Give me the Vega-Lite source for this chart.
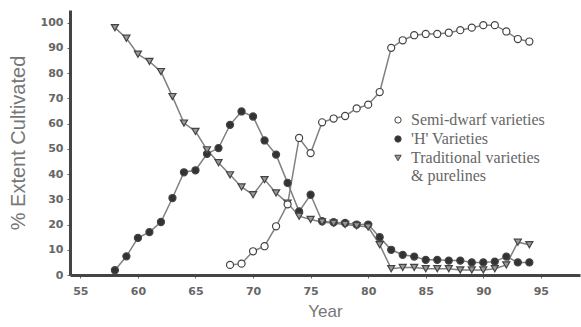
{
  "$schema": "https://vega.github.io/schema/vega-lite/v6.json",
  "width": 510,
  "height": 265,
  "autosize": {"type": "none"},
  "padding": {"left": 70, "top": 10, "right": 1, "bottom": 52},
  "background": "white",
  "config": {"view": {"stroke": null}},
  "data": {"values": [
    {"year": 58, "series": "'H' Varieties", "value": 1.9},
    {"year": 59, "series": "'H' Varieties", "value": 7.4},
    {"year": 60, "series": "'H' Varieties", "value": 14.7},
    {"year": 61, "series": "'H' Varieties", "value": 17},
    {"year": 62, "series": "'H' Varieties", "value": 21},
    {"year": 63, "series": "'H' Varieties", "value": 30.5},
    {"year": 64, "series": "'H' Varieties", "value": 40.7},
    {"year": 65, "series": "'H' Varieties", "value": 41.5},
    {"year": 66, "series": "'H' Varieties", "value": 48},
    {"year": 67, "series": "'H' Varieties", "value": 50.3},
    {"year": 68, "series": "'H' Varieties", "value": 59.5},
    {"year": 69, "series": "'H' Varieties", "value": 64.8},
    {"year": 70, "series": "'H' Varieties", "value": 62.8},
    {"year": 71, "series": "'H' Varieties", "value": 53.3},
    {"year": 72, "series": "'H' Varieties", "value": 47.7},
    {"year": 73, "series": "'H' Varieties", "value": 36.5},
    {"year": 74, "series": "'H' Varieties", "value": 25.2},
    {"year": 75, "series": "'H' Varieties", "value": 31.8},
    {"year": 76, "series": "'H' Varieties", "value": 21.3},
    {"year": 77, "series": "'H' Varieties", "value": 20.9},
    {"year": 78, "series": "'H' Varieties", "value": 20.6},
    {"year": 79, "series": "'H' Varieties", "value": 20},
    {"year": 80, "series": "'H' Varieties", "value": 20},
    {"year": 81, "series": "'H' Varieties", "value": 15},
    {"year": 82, "series": "'H' Varieties", "value": 10},
    {"year": 83, "series": "'H' Varieties", "value": 8},
    {"year": 84, "series": "'H' Varieties", "value": 7.3},
    {"year": 85, "series": "'H' Varieties", "value": 6},
    {"year": 86, "series": "'H' Varieties", "value": 6},
    {"year": 87, "series": "'H' Varieties", "value": 5.7},
    {"year": 88, "series": "'H' Varieties", "value": 5.7},
    {"year": 89, "series": "'H' Varieties", "value": 5},
    {"year": 90, "series": "'H' Varieties", "value": 5},
    {"year": 91, "series": "'H' Varieties", "value": 5.3},
    {"year": 92, "series": "'H' Varieties", "value": 7.3},
    {"year": 93, "series": "'H' Varieties", "value": 5},
    {"year": 94, "series": "'H' Varieties", "value": 5},
    {"year": 58, "series": "Traditional varieties & purelines", "value": 98},
    {"year": 59, "series": "Traditional varieties & purelines", "value": 93.8},
    {"year": 60, "series": "Traditional varieties & purelines", "value": 87.5},
    {"year": 61, "series": "Traditional varieties & purelines", "value": 84.6},
    {"year": 62, "series": "Traditional varieties & purelines", "value": 80.6},
    {"year": 63, "series": "Traditional varieties & purelines", "value": 70.7},
    {"year": 64, "series": "Traditional varieties & purelines", "value": 60.2},
    {"year": 65, "series": "Traditional varieties & purelines", "value": 56.9},
    {"year": 66, "series": "Traditional varieties & purelines", "value": 49.6},
    {"year": 67, "series": "Traditional varieties & purelines", "value": 44.5},
    {"year": 68, "series": "Traditional varieties & purelines", "value": 39.7},
    {"year": 69, "series": "Traditional varieties & purelines", "value": 34.9},
    {"year": 70, "series": "Traditional varieties & purelines", "value": 31.8},
    {"year": 71, "series": "Traditional varieties & purelines", "value": 37.8},
    {"year": 72, "series": "Traditional varieties & purelines", "value": 32.5},
    {"year": 73, "series": "Traditional varieties & purelines", "value": 28.5},
    {"year": 74, "series": "Traditional varieties & purelines", "value": 23.3},
    {"year": 75, "series": "Traditional varieties & purelines", "value": 22},
    {"year": 76, "series": "Traditional varieties & purelines", "value": 21},
    {"year": 77, "series": "Traditional varieties & purelines", "value": 20.5},
    {"year": 78, "series": "Traditional varieties & purelines", "value": 20},
    {"year": 79, "series": "Traditional varieties & purelines", "value": 19.5},
    {"year": 80, "series": "Traditional varieties & purelines", "value": 19},
    {"year": 81, "series": "Traditional varieties & purelines", "value": 12},
    {"year": 82, "series": "Traditional varieties & purelines", "value": 2.5},
    {"year": 83, "series": "Traditional varieties & purelines", "value": 3},
    {"year": 84, "series": "Traditional varieties & purelines", "value": 3},
    {"year": 85, "series": "Traditional varieties & purelines", "value": 2.5},
    {"year": 86, "series": "Traditional varieties & purelines", "value": 2.5},
    {"year": 87, "series": "Traditional varieties & purelines", "value": 2.5},
    {"year": 88, "series": "Traditional varieties & purelines", "value": 2},
    {"year": 89, "series": "Traditional varieties & purelines", "value": 2},
    {"year": 90, "series": "Traditional varieties & purelines", "value": 2},
    {"year": 91, "series": "Traditional varieties & purelines", "value": 2.5},
    {"year": 92, "series": "Traditional varieties & purelines", "value": 4},
    {"year": 93, "series": "Traditional varieties & purelines", "value": 13},
    {"year": 94, "series": "Traditional varieties & purelines", "value": 12},
    {"year": 68, "series": "Semi-dwarf varieties", "value": 4},
    {"year": 69, "series": "Semi-dwarf varieties", "value": 4.5},
    {"year": 70, "series": "Semi-dwarf varieties", "value": 9.4},
    {"year": 71, "series": "Semi-dwarf varieties", "value": 11.4},
    {"year": 72, "series": "Semi-dwarf varieties", "value": 19.3},
    {"year": 73, "series": "Semi-dwarf varieties", "value": 28},
    {"year": 74, "series": "Semi-dwarf varieties", "value": 54.3},
    {"year": 75, "series": "Semi-dwarf varieties", "value": 48.3},
    {"year": 76, "series": "Semi-dwarf varieties", "value": 60.5},
    {"year": 77, "series": "Semi-dwarf varieties", "value": 62},
    {"year": 78, "series": "Semi-dwarf varieties", "value": 63},
    {"year": 79, "series": "Semi-dwarf varieties", "value": 66},
    {"year": 80, "series": "Semi-dwarf varieties", "value": 67.5},
    {"year": 81, "series": "Semi-dwarf varieties", "value": 72.5},
    {"year": 82, "series": "Semi-dwarf varieties", "value": 90},
    {"year": 83, "series": "Semi-dwarf varieties", "value": 93},
    {"year": 84, "series": "Semi-dwarf varieties", "value": 95},
    {"year": 85, "series": "Semi-dwarf varieties", "value": 95.5},
    {"year": 86, "series": "Semi-dwarf varieties", "value": 95.5},
    {"year": 87, "series": "Semi-dwarf varieties", "value": 96},
    {"year": 88, "series": "Semi-dwarf varieties", "value": 97},
    {"year": 89, "series": "Semi-dwarf varieties", "value": 98},
    {"year": 90, "series": "Semi-dwarf varieties", "value": 99},
    {"year": 91, "series": "Semi-dwarf varieties", "value": 99},
    {"year": 92, "series": "Semi-dwarf varieties", "value": 96.5},
    {"year": 93, "series": "Semi-dwarf varieties", "value": 93.5},
    {"year": 94, "series": "Semi-dwarf varieties", "value": 92.5}
  ]},
  "encoding": {
    "x": {"field": "year", "type": "quantitative",
      "scale": {"domain": [54.1, 98.4], "nice": false, "zero": false},
      "axis": {"values": [55, 60, 65, 70, 75, 80, 85, 90, 95], "title": "Year",
        "domainColor": "#444", "domainWidth": 3, "tickColor": "#666", "tickSize": 3,
        "labelColor": "#666", "labelFont": "DejaVu Sans", "labelFontSize": 11, "labelFontWeight": "bold",
        "labelPadding": 7, "grid": false,
        "titleColor": "#777", "titleFont": "Liberation Sans", "titleFontSize": 17, "titleFontWeight": "normal", "titlePadding": 7}},
    "y": {"field": "value", "type": "quantitative",
      "scale": {"domain": [0, 105], "nice": false},
      "axis": {"values": [0, 10, 20, 30, 40, 50, 60, 70, 80, 90, 100], "title": "% Extent Cultivated",
        "domainColor": "#444", "domainWidth": 3, "tickColor": "#666", "tickSize": 3,
        "labelColor": "#666", "labelFont": "DejaVu Sans", "labelFontSize": 11, "labelFontWeight": "bold",
        "labelPadding": 4, "grid": false,
        "titleColor": "#777", "titleFont": "Liberation Sans", "titleFontSize": 20, "titleFontWeight": "normal", "titlePadding": 12}}
  },
  "layer": [
    {"mark": {"type": "line", "color": "#808080", "strokeWidth": 1.5},
     "encoding": {"detail": {"field": "series", "type": "nominal"}}},
    {"mark": {"type": "point", "filled": false, "size": 50, "strokeWidth": 1.2, "stroke": "#444", "opacity": 1},
     "encoding": {
       "shape": {"field": "series", "type": "nominal",
         "scale": {"domain": ["Semi-dwarf varieties", "'H' Varieties", "Traditional varieties & purelines"], "range": ["circle", "circle", "triangle-down"]}},
       "fill": {"field": "series", "type": "nominal",
         "scale": {"domain": ["Semi-dwarf varieties", "'H' Varieties", "Traditional varieties & purelines"], "range": ["white", "#333", "#999"]},
         "legend": {"title": null, "orient": "none", "legendX": 320, "legendY": 102,
           "labelFont": "Liberation Serif", "labelFontSize": 16, "labelColor": "#666",
           "symbolSize": 40, "symbolStrokeColor": "#444", "symbolStrokeWidth": 1, "rowPadding": 3, "labelOffset": 5,
           "labelExpr": "datum.label == 'Traditional varieties & purelines' ? ['Traditional varieties', '& purelines'] : datum.label"}}
     }}
  ]
}
